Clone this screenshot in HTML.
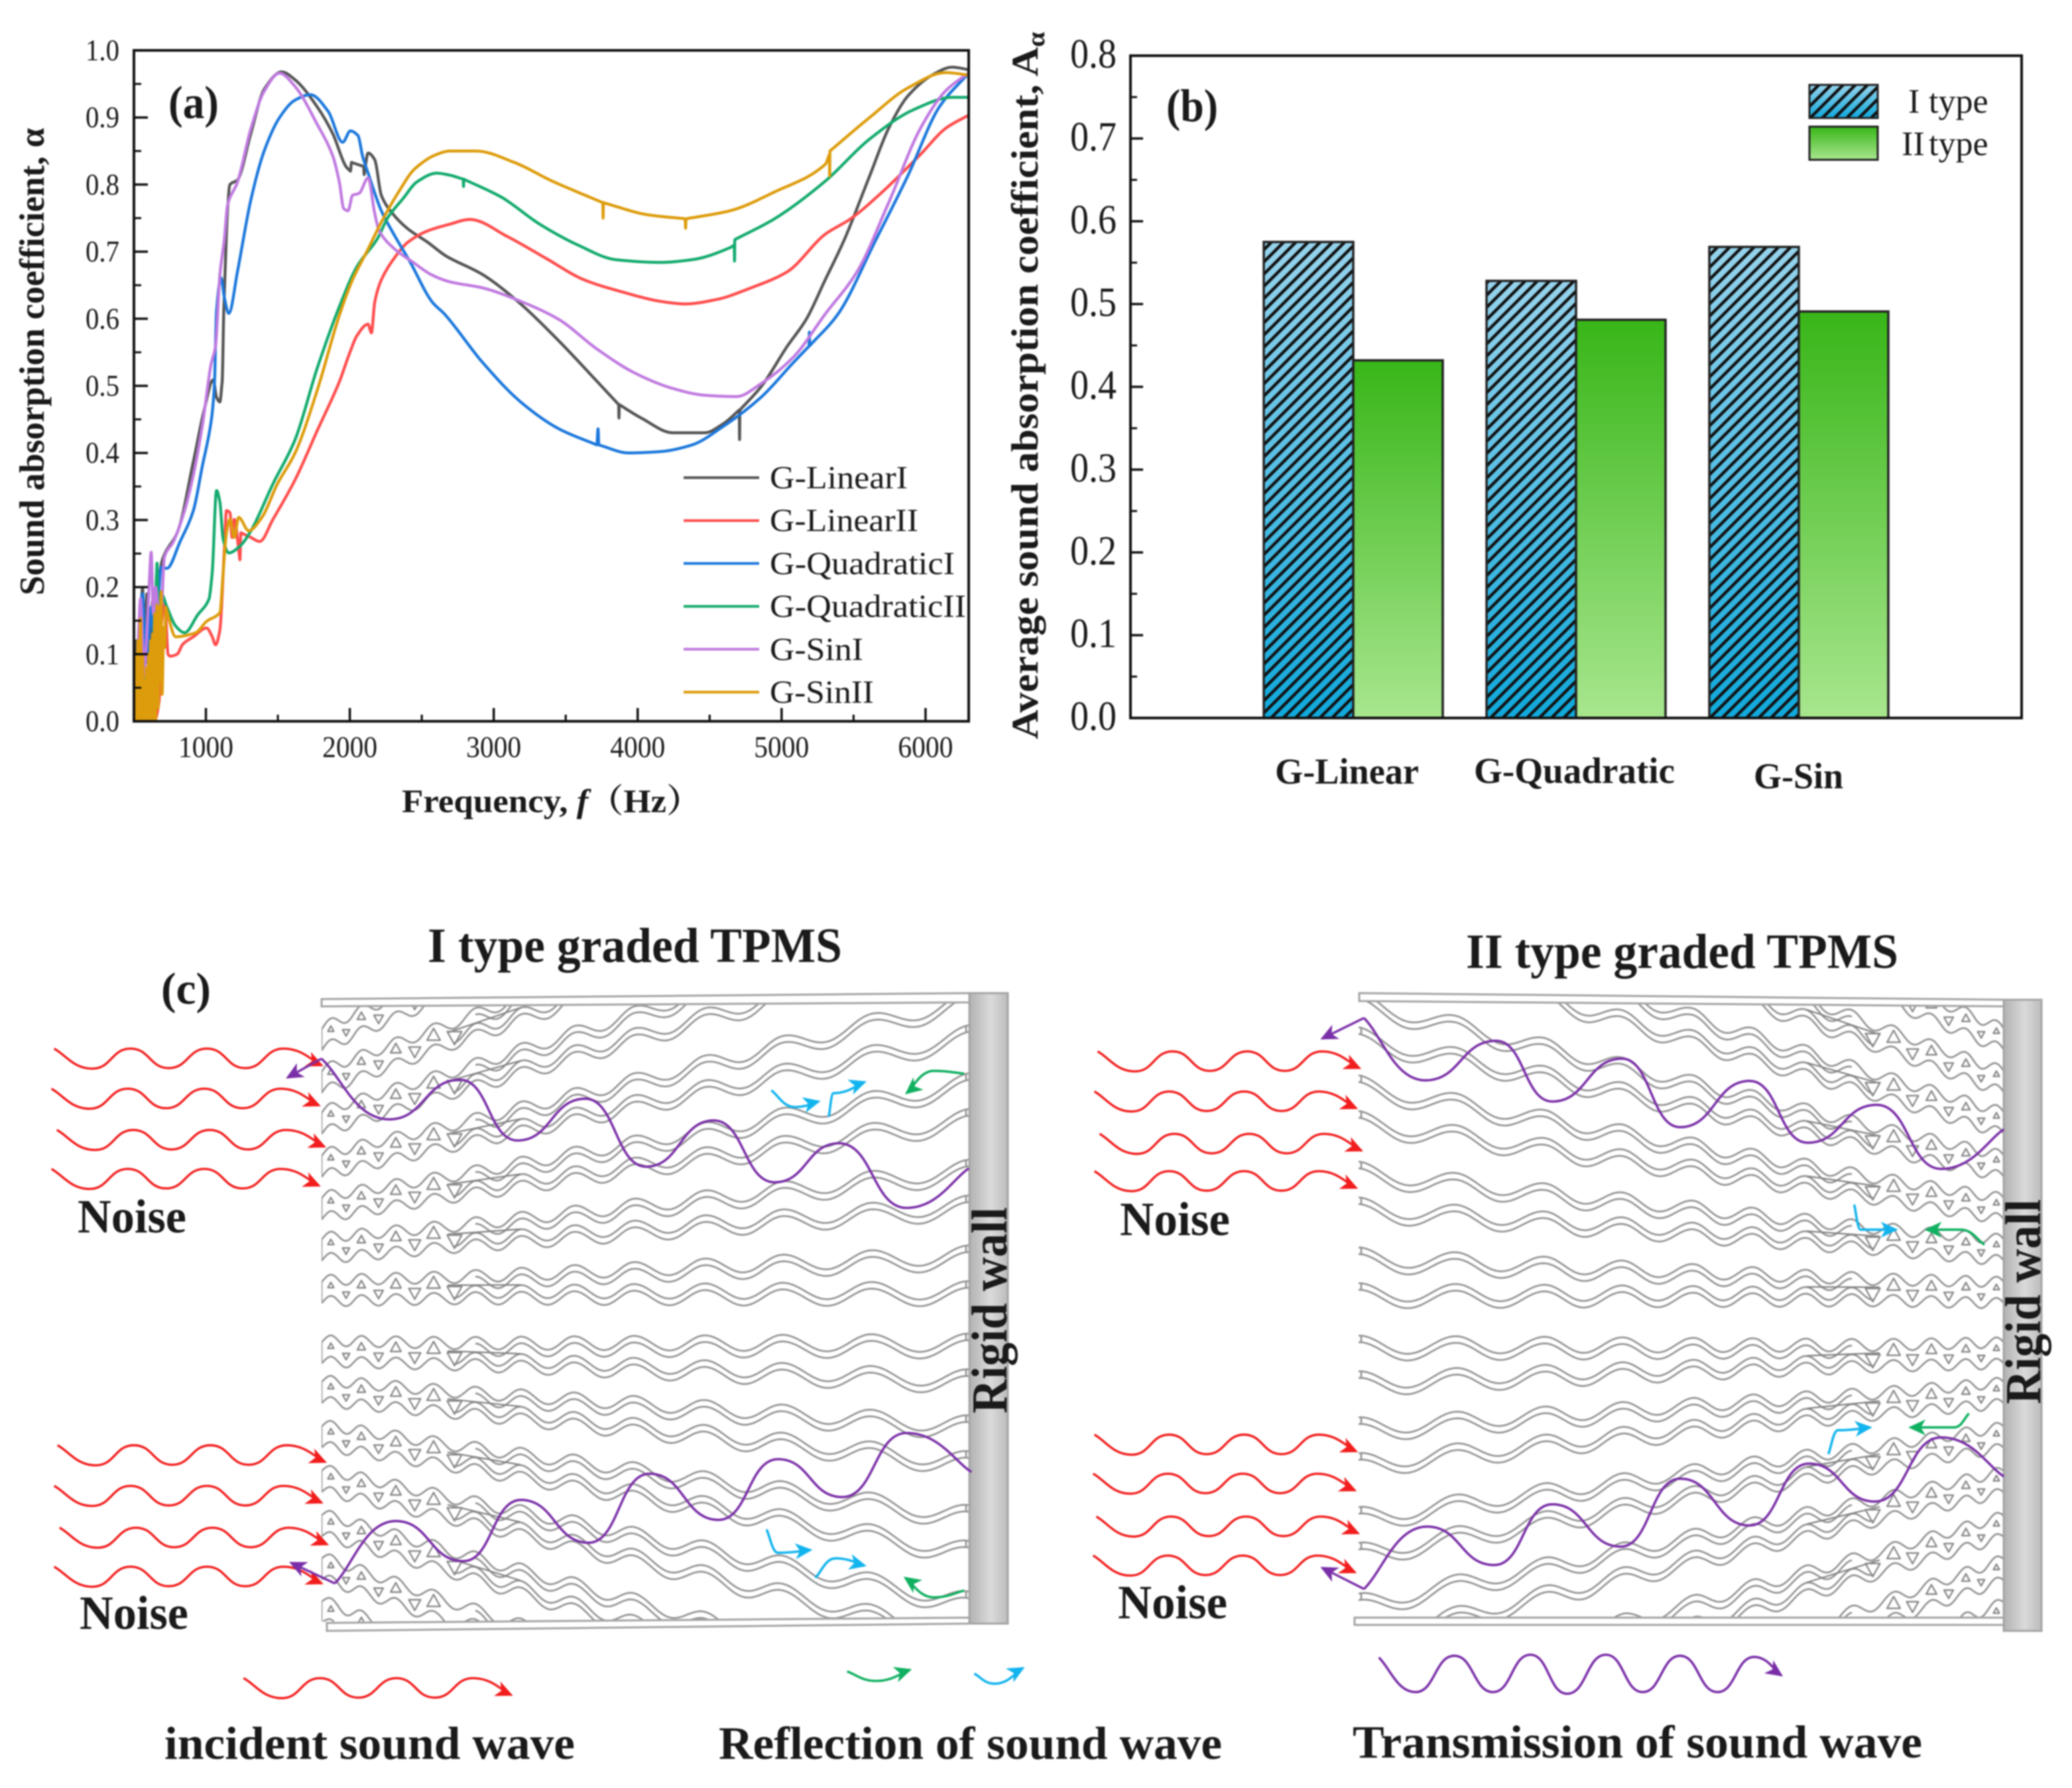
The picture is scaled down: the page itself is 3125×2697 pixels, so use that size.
<!DOCTYPE html>
<html>
<head>
<meta charset="utf-8">
<title>Sound absorption of graded TPMS</title>
<style>
html,body{margin:0;padding:0;background:#fff;width:3125px;height:2697px;overflow:hidden;}
svg{display:block;overflow:hidden;filter:blur(1px);}
text{font-family:"Liberation Serif","Noto Serif CJK SC",serif;fill:#1a1a1a;}
.b{font-weight:bold;}
.tick{font-size:46px;}
.tickb{font-size:62px;}
</style>
</head>
<body>
<svg id="fig" xmlns="http://www.w3.org/2000/svg" width="3125" height="2697" viewBox="0 0 3125 2697">
<defs>
  <linearGradient id="blueGrad" x1="0" y1="0" x2="0" y2="1"><stop offset="0" stop-color="#96d3ec"/><stop offset="1" stop-color="#10a9dc"/></linearGradient>
  <linearGradient id="greenGrad" x1="0" y1="0" x2="0" y2="1"><stop offset="0" stop-color="#38b618"/><stop offset="1" stop-color="#a8e68e"/></linearGradient>
  <linearGradient id="wallGrad" x1="0" y1="0" x2="1" y2="0"><stop offset="0" stop-color="#b2b2b2"/><stop offset="0.55" stop-color="#dadada"/><stop offset="1" stop-color="#bcbcbc"/></linearGradient>
  <pattern id="hatch" width="13" height="13" patternUnits="userSpaceOnUse" patternTransform="rotate(45)"><rect x="0" y="0" width="4.6" height="13" fill="#111"/></pattern>
  <clipPath id="clipA"><rect x="202" y="75" width="1259" height="1013"/></clipPath>
  <clipPath id="clipLattice"><rect x="485" y="1505" width="977" height="941"/></clipPath>
  <marker id="mRed" markerUnits="userSpaceOnUse" markerWidth="30" markerHeight="30" refX="23" refY="12" orient="auto"><path d="M0 0L26 12L0 24L7 12Z" fill="#f21d1d"/></marker>
  <marker id="mPurple" markerUnits="userSpaceOnUse" markerWidth="30" markerHeight="30" refX="23" refY="12" orient="auto"><path d="M0 0L26 12L0 24L7 12Z" fill="#7a2fa8"/></marker>
  <marker id="mCyan" markerUnits="userSpaceOnUse" markerWidth="30" markerHeight="30" refX="23" refY="12" orient="auto"><path d="M0 0L26 12L0 24L7 12Z" fill="#12b4ee"/></marker>
  <marker id="mGreen" markerUnits="userSpaceOnUse" markerWidth="30" markerHeight="30" refX="23" refY="12" orient="auto"><path d="M0 0L26 12L0 24L7 12Z" fill="#10b060"/></marker>
</defs>

<g id="panelA">
  <g id="aCurves" clip-path="url(#clipA)"></g>
  <rect x="202" y="76" width="1259" height="1012" fill="none" stroke="#111" stroke-width="4"/>
  <g id="aTicks"></g>
  <text class="b" x="254" y="178" font-size="70" textLength="76" lengthAdjust="spacingAndGlyphs">(a)</text>
  <text class="b" transform="translate(66,898) rotate(-90)" font-size="53" textLength="705" lengthAdjust="spacingAndGlyphs">Sound absorption coefficient, α</text>
  <text class="b" x="606" y="1225" font-size="50" textLength="452" lengthAdjust="spacingAndGlyphs">Frequency, <tspan font-style="italic">f</tspan>（Hz）</text>
  <g id="aLegend"></g>
</g>

<g id="panelB">
  <g id="bBars"></g>
  <rect x="1705" y="84" width="1344" height="999" fill="none" stroke="#111" stroke-width="4"/>
  <g id="bTicks"></g>
  <text class="b" x="1759" y="183" font-size="70" textLength="78" lengthAdjust="spacingAndGlyphs">(b)</text>
  <text class="b" transform="translate(1565,1115) rotate(-90)" font-size="57" textLength="1067" lengthAdjust="spacingAndGlyphs">Average sound absorption coefficient, A<tspan baseline-shift="-10" font-size="38">α</tspan></text>
  <rect x="2729" y="128" width="103" height="50" fill="url(#blueGrad)"/>
  <rect x="2729" y="128" width="103" height="50" fill="url(#hatch)" stroke="#222" stroke-width="3"/>
  <rect x="2729" y="191" width="103" height="50" fill="url(#greenGrad)" stroke="#222" stroke-width="3"/>
  <text x="2878" y="170" font-size="52">I<tspan x="2909">type</tspan></text>
  <text x="2868" y="234" font-size="52">II<tspan x="2909">type</tspan></text>
</g>

<g id="panelC">
  <text class="b" x="645" y="1451" font-size="74" textLength="625" lengthAdjust="spacingAndGlyphs">I type graded TPMS</text>
  <text class="b" x="2211" y="1460" font-size="74" textLength="652" lengthAdjust="spacingAndGlyphs">II type graded TPMS</text>
  <text class="b" x="243" y="1514" font-size="68" textLength="75" lengthAdjust="spacingAndGlyphs">(c)</text>

  <g id="latticeL" clip-path="url(#clipLattice)"></g>
  <g transform="translate(3510,3) scale(-1,1)"><g id="latticeR" clip-path="url(#clipLattice)"></g></g>

  <g stroke="#a4a4a4" stroke-width="3">
    <path d="M485 1507L1462 1498L1462 1512L485 1518Z" fill="#fff"/>
    <path d="M493 2448L1462 2440L1462 2449L493 2460Z" fill="#fff"/>
    <path d="M2050 1498L3022 1508L3022 1518L2050 1510Z" fill="#fff"/>
    <rect x="2043" y="2440" width="979" height="11" fill="#fff"/>
    <rect x="1462" y="1498" width="58" height="951" fill="url(#wallGrad)"/>
    <rect x="3022" y="1508" width="57" height="952" fill="url(#wallGrad)"/>
  </g>
  <text class="b" transform="translate(1518,2132) rotate(-90)" font-size="76" textLength="311" lengthAdjust="spacingAndGlyphs">Rigid wall</text>
  <text class="b" transform="translate(3077,2118) rotate(-90)" font-size="76" textLength="309" lengthAdjust="spacingAndGlyphs">Rigid wall</text>

  <g id="waves"></g>

  <text class="b" x="117" y="1859" font-size="72" textLength="164" lengthAdjust="spacingAndGlyphs">Noise</text>
  <text class="b" x="120" y="2457" font-size="72" textLength="164" lengthAdjust="spacingAndGlyphs">Noise</text>
  <text class="b" x="1689" y="1863" font-size="72" textLength="166" lengthAdjust="spacingAndGlyphs">Noise</text>
  <text class="b" x="1686" y="2441" font-size="72" textLength="165" lengthAdjust="spacingAndGlyphs">Noise</text>
  <text class="b" x="248" y="2653" font-size="70" textLength="619" lengthAdjust="spacingAndGlyphs">incident sound wave</text>
  <text class="b" x="1084" y="2653" font-size="70" textLength="759" lengthAdjust="spacingAndGlyphs">Reflection of sound wave</text>
  <text class="b" x="2040" y="2651" font-size="70" textLength="859" lengthAdjust="spacingAndGlyphs">Transmission of sound wave</text>
</g>
</svg>

<script>
/* ---------- Panel (a) data: frequency (Hz) and absorption coefficient ---------- */
const xTickLabelsA = [1000, 2000, 3000, 4000, 5000, 6000];
const yTickLabelsA = [0.0, 0.1, 0.2, 0.3, 0.4, 0.5, 0.6, 0.7, 0.8, 0.9, 1.0];

const freqLinearI = [500,515,530,545,560,575,590,610,630,650, 670,698,806,913,990,1051,1074,1097,1113,1125, 1151,1167,1220,1312,1405,1527,1620,1773,1881,1973, 2004,2012,2096,2100,2127,2173,2219,2296,2403,2541, 2665,2922,3187,3452,3716,3868,3870,3872,4025,4245, 4466,4598,4706,4708,4710,4862,5039,5171,5303,5436, 5612,5744,5877,6053,6185,6304];
const alphaLinearI = [.05,.12,.03,.14,.198,.10,.19,.06,.18,.10, .20,.241,.284,.387,.466,.509,.483,.476,.506,.618, .764,.80,.807,.876,.942,.968,.956,.916,.876,.827, .82,.833,.827,.815,.847,.837,.784,.757,.734,.714, .694,.666,.622,.567,.507,.472,.452,.472,.452,.43, .43,.444,.464,.42,.464,.5,.559,.599,.658,.718, .813,.884,.932,.964,.975,.971];

const freqLinearII = [500,510,520,535,550,570,590,610,640,675, 690,715,737,753,800,840,913,1005,1044,1067,1097, 1128,1143,1167,1182,1197,1236,1243,1313,1374,1466, 1620,1773,1927,2004,2050,2127,2150,2173,2219,2311, 2403,2541,2695,2834,3099,3363,3628,3892,4157,4333, 4554,4774,5039,5303,5480,5700,5965,6141,6304];
const alphaLinearII = [0,.09,0,.02,0,.01,0,0,0,.03, .14,.176,.10,.097,.10,.115,.126,.139,.126,.114,.136, .255,.314,.311,.274,.301,.241,.281,.274,.268,.301, .36,.433,.506,.552,.575,.592,.579,.625,.658,.691, .714,.731,.741,.748,.722,.69,.658,.64,.626,.622, .629,.645,.67,.726,.749,.789,.845,.884,.904];

const freqQuadraticI = [502,520,545,560,575,590,605,620,640,660,690,729, 821,913,975,1036,1059,1074,1105,1128,1159, 1220,1312,1405,1512,1620,1727,1850,1950,2004,2057, 2088,2127,2219,2311,2418,2572,2658,2922,3187,3452, 3716,3725,3730,3937,4157,4378,4598,4862,5083,5190, 5193,5196,5392,5656,5877,6097,6304];
const alphaQuadraticI = [.10,.04,.16,.19,.13,.087,.13,.17,.12,.15,.23,.228, .268,.314,.38,.446,.5,.612,.661,.632,.608, .671,.777,.85,.90,.926,.934,.909,.863,.88,.873, .843,.817,.761,.724,.685,.625,.607,.535,.476,.436, .412,.436,.412,.40,.402,.412,.44,.484,.535,.559, .58,.56,.607,.718,.813,.916,.967];

const freqQuadraticII = [502,530,560,590,625,645,660,672,690,730,790, 852,944,1021,1044,1074,1097,1120,1159,1236,1313, 1466,1620,1773,1927,2050,2188,2265,2373,2466,2604, 2695,2788,2790,2792,3055,3319,3584,3848,4157,4378, 4642,4671,4673,4675,4951,5303,5612,5921,6185,6304];
const alphaQuadraticII = [.056,.01,.10,.03,.08,.16,.234,.11,.19,.17,.142, .132,.159,.182,.222,.344,.327,.271,.251,.261,.284, .354,.42,.526,.618,.678,.718,.751,.78,.804,.817, .814,.808,.797,.808,.781,.741,.71,.688,.684,.688, .706,.71,.686,.718,.749,.805,.868,.912,.93,.93];

const freqSinI = [498,515,530,546,560,572,590,605,620,635,650,670,690,712,775, 852,913,975,1036,1067,1097,1128,1151,1220,1312, 1405,1512,1620,1773,1881,1927,1958,1988,2019,2065, 2127,2173,2204,2311,2434,2572,2695,2922,3187,3452, 3716,3981,4245,4466,4686,4862,5083,5303,5524,5744, 5965,6141,6304];
const alphaSinI = [.04,.05,.12,.183,.12,.07,.13,.2,.252,.16,.2,.17,.17,.245,.268, .314,.367,.44,.532,.559,.665,.718,.77,.804,.883, .939,.966,.946,.89,.843,.804,.764,.761,.784,.787, .81,.757,.731,.704,.685,.665,.655,.646,.626,.599, .555,.519,.496,.486,.484,.504,.543,.607,.67,.773, .884,.94,.967];

const freqSinII = [500,506,514,520,528,534,546,552,560,566,574,580,588,594,602,608,616,622,630,636,644,650,661,668,675,682,689,696,707,714,721, 790,929,1005,1097,1120, 1143,1167,1197,1228,1297,1389,1497,1620,1773,1927, 2019,2127,2219,2342,2449,2603,2695,2878,3143,3407, 3758,3760,3762,4069,4330,4333,4336,4642,4951,5303, 5332,5334,5336,5612,5877,6141,6304];
const alphaSinII = [0,.07,.10,0,.12,0,.153,0,.10,0,.06,0,.08,0,.10,0,.12,0,.13,0,.16,0,.173,.02,.17,.06,.193,.04,.14,.11,.17, .126,.132,.149,.162,.222, .281,.301,.274,.304,.284,.304,.354,.40,.493,.605, .658,.704,.744,.79,.823,.845,.85,.85,.833,.805, .773,.75,.773,.755,.749,.735,.749,.761,.789,.83, .845,.813,.85,.90,.944,.967,.963];

const seriesNames = ["G-LinearI", "G-LinearII", "G-QuadraticI", "G-QuadraticII", "G-SinI", "G-SinII"];
const seriesFreqs = [freqLinearI, freqLinearII, freqQuadraticI, freqQuadraticII, freqSinI, freqSinII];
const seriesAlphas = [alphaLinearI, alphaLinearII, alphaQuadraticI, alphaQuadraticII, alphaSinI, alphaSinII];
const seriesColors = ["#555555", "#ff4d4d", "#1c78dc", "#14ab6e", "#c07ae0", "#dd9c0c"];

/* ---------- Panel (b) data ---------- */
const categoriesB = ["G-Linear", "G-Quadratic", "G-Sin"];
const valuesTypeI = [0.575, 0.528, 0.569];
const valuesTypeII = [0.432, 0.481, 0.491];
const yTickLabelsB = [0.0, 0.1, 0.2, 0.3, 0.4, 0.5, 0.6, 0.7, 0.8];

const SVGNS = "http://www.w3.org/2000/svg";
function make(tag, attrs, parent) {
  const e = document.createElementNS(SVGNS, tag);
  for (const k in attrs) e.setAttribute(k, attrs[k]);
  parent.appendChild(e);
  return e;
}

/* axis functions */
const xA = f => 202 + (f - 500) * 1259 / 5800;
const yA = a => 1088 - a * 1012;
const yB = v => 1083 - v * 999 / 0.8;

/* monotone cubic path through chart points; narrow spikes keep the trend of the curve around them */
function smoothPath(xs, ys) {
  const n = Math.min(xs.length, ys.length);
  const m = [];
  for (let i = 0; i < n - 1; i++) m.push((ys[i + 1] - ys[i]) / (xs[i + 1] - xs[i]));
  const narrow = 3;
  const t = [m[0]];
  for (let i = 1; i < n - 1; i++) {
    const dPrev = xs[i] - xs[i - 1], dNext = xs[i + 1] - xs[i];
    if (dPrev < narrow && dNext < narrow) t.push(0);
    else if (dNext < narrow) t.push(m[i - 1]);
    else if (dPrev < narrow) t.push(m[i]);
    else t.push(m[i - 1] * m[i] <= 0 ? 0 : 2 * m[i - 1] * m[i] / (m[i - 1] + m[i]));
  }
  t.push(m[n - 2]);
  let d = "M" + xs[0].toFixed(1) + " " + ys[0].toFixed(1);
  for (let i = 0; i < n - 1; i++) {
    const h = (xs[i + 1] - xs[i]) / 3;
    d += "C" + (xs[i] + h).toFixed(1) + " " + (ys[i] + t[i] * h).toFixed(1) + " " + (xs[i + 1] - h).toFixed(1) + " " + (ys[i + 1] - t[i + 1] * h).toFixed(1) + " " + xs[i + 1].toFixed(1) + " " + ys[i + 1].toFixed(1);
  }
  return d;
}

/* --- panel a curves --- */
const aCurves = document.getElementById("aCurves");
seriesNames.forEach((name, s) => {
  const d = smoothPath(seriesFreqs[s].map(xA), seriesAlphas[s].map(yA));
  const p = make("path", {d: d, fill: "none", stroke: seriesColors[s], "stroke-width": 4.4, "stroke-linejoin": "round"}, aCurves);
  
  
});

/* --- panel a ticks --- */
const aTicks = document.getElementById("aTicks");
xTickLabelsA.forEach(v => {
  const t = make("text", {x: xA(v), y: 1142, "text-anchor": "middle", class: "tick", textLength: 83, lengthAdjust: "spacingAndGlyphs"}, aTicks);
  t.textContent = v;
  
  
  const l = make("line", {x1: xA(v), x2: xA(v), y1: 1088, y2: 1068, stroke: "#111", "stroke-width": 3.5}, aTicks);
  
  
  [v - 500, v + 500 <= 6300 ? v + 500 : null].forEach(m => {
    if (m === null || m < 500) return;
    const n = make("line", {x1: xA(m), x2: xA(m), y1: 1088, y2: 1078, stroke: "#111", "stroke-width": 3}, aTicks);
    
    
  });
});
yTickLabelsA.forEach(v => {
  const t = make("text", {x: 180, y: yA(v) + 15, "text-anchor": "end", class: "tick", textLength: 51, lengthAdjust: "spacingAndGlyphs"}, aTicks);
  t.textContent = v.toFixed(1);
  
  
  const l = make("line", {x1: 202, x2: 223, y1: yA(v), y2: yA(v), stroke: "#111", "stroke-width": 3.5}, aTicks);
  
  
  if (v < 1) {
    const n = make("line", {x1: 202, x2: 213, y1: yA(v + 0.05), y2: yA(v + 0.05), stroke: "#111", "stroke-width": 3}, aTicks);
    
    
  }
});

/* --- panel a legend --- */
const aLegend = document.getElementById("aLegend");
const legendWidths = [208, 224, 279, 296, 141, 157];
seriesNames.forEach((name, s) => {
  const ly = 720.5 + s * 64.7;
  const l = make("line", {x1: 1031, x2: 1145, y1: ly, y2: ly, stroke: seriesColors[s], "stroke-width": 4}, aLegend);
  
  
  const t = make("text", {x: 1161, y: ly + 16, "font-size": 49, textLength: legendWidths[s], lengthAdjust: "spacingAndGlyphs"}, aLegend);
  t.textContent = name;
  
  
});

/* --- panel b bars --- */
const bBars = document.getElementById("bBars");
const groupLeft = [1906, 2242, 2578];
const barW = 135;
categoriesB.forEach((c, i) => {
  const x0 = groupLeft[i];
  const y1 = yB(valuesTypeI[i]), y2 = yB(valuesTypeII[i]);
  const b1 = make("rect", {x: x0, y: y1, width: barW, height: 1083 - y1, fill: "url(#blueGrad)"}, bBars);
  
  
  const h1 = make("rect", {x: x0, y: y1, width: barW, height: 1083 - y1, fill: "url(#hatch)", stroke: "#222", "stroke-width": 3.5}, bBars);
  
  
  const b2 = make("rect", {x: x0 + barW, y: y2, width: barW, height: 1083 - y2, fill: "url(#greenGrad)", stroke: "#222", "stroke-width": 3.5}, bBars);
  
  
});
const catLabelX = [1923, 2223, 2645];
const catLabelY = [1182, 1181, 1189];
const catLabelW = [217, 303, 135];
categoriesB.forEach((c, i) => {
  const t = make("text", {x: catLabelX[i], y: catLabelY[i], "font-size": 55, "font-weight": "bold", textLength: catLabelW[i], lengthAdjust: "spacingAndGlyphs"}, bBars);
  t.textContent = c;
  
  
});

/* --- panel b ticks --- */
const bTicks = document.getElementById("bTicks");
yTickLabelsB.forEach(v => {
  const t = make("text", {x: 1684, y: yB(v) + 18, "text-anchor": "end", class: "tickb", textLength: 70, lengthAdjust: "spacingAndGlyphs"}, bTicks);
  t.textContent = v.toFixed(1);
  
  
  const l = make("line", {x1: 1705, x2: 1724, y1: yB(v), y2: yB(v), stroke: "#111", "stroke-width": 3.5}, bTicks);
  
  
  if (v < 0.8) {
    const n = make("line", {x1: 1705, x2: 1715, y1: yB(v + 0.05), y2: yB(v + 0.05), stroke: "#111", "stroke-width": 3}, bTicks);
    
    
  }
});

/* --- panel c schematic lattice --- */
const crestT = [14, 60, 112, 169, 232, 301, 381, 471, 578, 695, 829, 975, 1130];
const rowStart = [1566, 1630, 1692, 1757, 1821, 1883, 1947, 2038, 2098, 2165, 2232, 2299, 2364, 2429];
const rowSlope = [-.42, -.36, -.30, -.224, -.16, -.09, -.023, .02, .085, .155, .22, .29, .35, .41];
const yMinL = 1500, yMaxL = 2452;
const inBox = y => y >= yMinL && y <= yMaxL;
function phase(t) {
  if (t <= crestT[0]) return (t - crestT[0]) / 46;
  for (let i = 0; i < crestT.length - 1; i++) {
    if (t <= crestT[i + 1]) return i + (t - crestT[i]) / (crestT[i + 1] - crestT[i]);
  }
  return crestT.length;
}
const amp = t => 8 + 6 * t / 977;
const outer = t => 16 + 16 * Math.max(0, (t - 200) / 777);
function tracePath(fn, t0, t1) {
  let d = "", pen = false;
  for (let t = t0; t <= t1; t += 4) {
    const y = fn(t);
    if (inBox(y)) {
      d += (pen ? "L" : "M") + (485 + t) + " " + y.toFixed(1);
      pen = true;
    } else {
      pen = false;
    }
  }
  return d;
}
function drawLattice(host) {
  rowStart.forEach((r0, r) => {
    const slope = rowSlope[r];
    const base = t => r0 + slope * t;
    const wave = t => -amp(t) * Math.cos(2 * Math.PI * phase(t));
    const paths = [
      tracePath(t => base(t) - outer(t) + wave(t), 0, 976),
      tracePath(t => base(t) + outer(t) + wave(t), 0, 976),
      tracePath(t => base(t) - outer(t) + 10 + wave(t), 232, 976),
      tracePath(t => base(t) + outer(t) - 10 + wave(t), 200, 976)
    ];
    const tEnd = 972;
    const yE = base(tEnd) + wave(tEnd), oE = outer(tEnd), xE = 485 + tEnd;
    if (inBox(yE - oE) && inBox(yE - oE + 10)) paths.push("M" + xE + " " + (yE - oE).toFixed(1) + "L" + xE + " " + (yE - oE + 10).toFixed(1));
    if (inBox(yE + oE) && inBox(yE + oE - 10)) paths.push("M" + xE + " " + (yE + oE).toFixed(1) + "L" + xE + " " + (yE + oE - 10).toFixed(1));
    paths.push("M485 " + (base(0) - outer(0) + wave(0)).toFixed(1) + "L485 " + (base(0) + outer(0) + wave(0)).toFixed(1));
    paths.forEach(d => {
      if (!d) return;
      const p = make("path", {d: d, fill: "none", stroke: "#949494", "stroke-width": 2.7}, host);
      
      
    });
    if (inBox(base(190) - 4) && inBox(base(300) - 2)) {
      const mid = make("path", {d: "M" + (485 + 190) + " " + (base(190) - 4).toFixed(1) + "L" + (485 + 300) + " " + (base(300) - 2).toFixed(1), fill: "none", stroke: "#808080", "stroke-width": 2.2}, host);
      
      
    }
    for (let k = 0; k < 4; k++) {
      const cx = crestT[k], tx = (crestT[k] + crestT[k + 1]) / 2;
      const su = 4 + cx * 0.035, sd = 4 + tx * 0.035;
      const yu = base(cx) - 8, yd = base(tx) + 7;
      if (inBox(yu - su) && inBox(yu + su)) {
        const up = make("path", {d: "M" + (485 + cx) + " " + (yu - su).toFixed(1) + "L" + (485 + cx + su).toFixed(1) + " " + (yu + su * .8).toFixed(1) + "L" + (485 + cx - su).toFixed(1) + " " + (yu + su * .8).toFixed(1) + "Z", fill: "none", stroke: "#8a8a8a", "stroke-width": 2.4, "stroke-linejoin": "round"}, host);
        
        
      }
      if (inBox(yd - sd) && inBox(yd + sd)) {
        const dn = make("path", {d: "M" + (485 + tx) + " " + (yd + sd).toFixed(1) + "L" + (485 + tx + sd).toFixed(1) + " " + (yd - sd * .8).toFixed(1) + "L" + (485 + tx - sd).toFixed(1) + " " + (yd - sd * .8).toFixed(1) + "Z", fill: "none", stroke: "#8a8a8a", "stroke-width": 2.4, "stroke-linejoin": "round"}, host);
        
        
      }
    }
  });
}
drawLattice(document.getElementById("latticeL"));
drawLattice(document.getElementById("latticeR"));

/* --- panel c waves (schematic keypoints, measured in crop coordinates) --- */
const wavesHost = document.getElementById("waves");
const mapL = p => [p[0] / 0.98, 1380 + p[1] / 1.19];
const mapR = p => [1600 + p[0] / 1.028, 1380 + p[1] / 1.19];
function wavePath(pts, color, width, marker, name) {
  let d = "M" + pts[0][0].toFixed(1) + " " + pts[0][1].toFixed(1);
  for (let i = 1; i < pts.length; i++) {
    const a = pts[i - 1], b = pts[i], dx = b[0] - a[0], dy = b[1] - a[1];
    const last = i === pts.length - 1;
    const c1 = (i === 1) ? [a[0] + dx * .3, a[1] + dy * .3] : [a[0] + dx * .5, a[1]];
    const c2 = last ? [b[0] - dx * .25, b[1] - dy * .25] : [b[0] - dx * .5, b[1]];
    d += "C" + c1[0].toFixed(1) + " " + c1[1].toFixed(1) + " " + c2[0].toFixed(1) + " " + c2[1].toFixed(1) + " " + b[0].toFixed(1) + " " + b[1].toFixed(1);
  }
  const attrs = {d: d, fill: "none", stroke: color, "stroke-width": width};
  if (marker) attrs["marker-end"] = "url(#" + marker + ")";
  const p = make("path", attrs, wavesHost);
  
  
}
const RED = "#f21d1d", PUR = "#7a2fa8", CY = "#12b4ee", GR = "#10b060";
function redWave(map, x0, y0, step) {
  const pts = [];
  const ys = [0, 36, 0, 35, 0, 35, 0, 30];
  ys.forEach((dy, i) => pts.push([x0 + i * step, y0 + dy]));
  wavePath(pts.map(map), RED, 3.4, "mRed", "incident-wave");
}
[[80,240],[76,312],[84,386],[76,456],[85,952],[80,1025],[88,1100],[80,1170]].forEach(r => redWave(mapL, r[0], r[1], 56.5));
[[57,245],[52,317],[60,393],[52,460],[52,933],[50,1003],[55,1080],[50,1150]].forEach(r => redWave(mapR, r[0], r[1], 58));
redWave(mapL, 360, 1370, 56.5);

wavePath([[475,258],[575,367],[680,296],[765,405],[865,330],[955,452],[1055,369],[1145,480],[1240,410],[1340,526],[1432,455]].map(mapL), PUR, 3.6, null, "transmission-wave");
wavePath([[495,1200],[585,1088],[685,1160],[770,1050],[870,1127],[960,1003],[1062,1086],[1150,977],[1245,1045],[1340,930],[1436,1000]].map(mapL), PUR, 3.6, null, "transmission-wave");
wavePath([[470,185],[565,297],[675,226],[762,335],[870,258],[960,381],[1068,298],[1158,409],[1265,341],[1365,456],[1462,385]].map(mapR), PUR, 3.6, null, "transmission-wave");
wavePath([[470,1210],[568,1098],[672,1167],[762,1058],[868,1134],[960,1012],[1068,1096],[1160,985],[1262,1053],[1365,938],[1462,1008]].map(mapR), PUR, 3.6, null, "transmission-wave");
wavePath([[475,258],[425,292]].map(mapL), PUR, 3.4, "mPurple", "reflected-arrow");
wavePath([[495,1200],[430,1163]].map(mapL), PUR, 3.4, "mPurple", "reflected-arrow");
wavePath([[470,185],[405,222]].map(mapR), PUR, 3.4, "mPurple", "reflected-arrow");
wavePath([[470,1210],[405,1172]].map(mapR), PUR, 3.4, "mPurple", "reflected-arrow");
wavePath([[493,1333],[550,1395],[610,1330],[670,1395],[728,1328],[785,1398],[845,1328],[902,1395],[960,1330],[1018,1395],[1075,1332],[1117,1365]].map(mapR), PUR, 3.6, "mPurple", "key-transmission-wave");

[[[1140,315],[1175,345],[1210,335]],[[1225,362],[1232,320],[1278,300]],[[1133,1103],[1150,1145],[1198,1140]],[[1205,1190],[1235,1155],[1278,1168]],[[1440,1362],[1470,1380],[1512,1352]]].forEach(p => wavePath(p.map(mapL), CY, 3.6, "mCyan", "reflection-arrow-cyan"));
[[[1230,520],[1240,565],[1295,565]],[[1190,968],[1205,925],[1255,920]]].forEach(p => wavePath(p.map(mapR), CY, 3.6, "mCyan", "reflection-arrow-cyan"));
[[[1425,285],[1380,280],[1340,320]],[[1425,1213],[1380,1225],[1338,1190]],[[1252,1358],[1295,1375],[1345,1355]]].forEach(p => wavePath(p.map(mapL), GR, 3.6, "mGreen", "reflection-arrow-green"));
[[[1432,592],[1395,565],[1342,565]],[[1408,895],[1385,920],[1317,920]]].forEach(p => wavePath(p.map(mapR), GR, 3.6, "mGreen", "reflection-arrow-green"));
</script>
</body>
</html>
